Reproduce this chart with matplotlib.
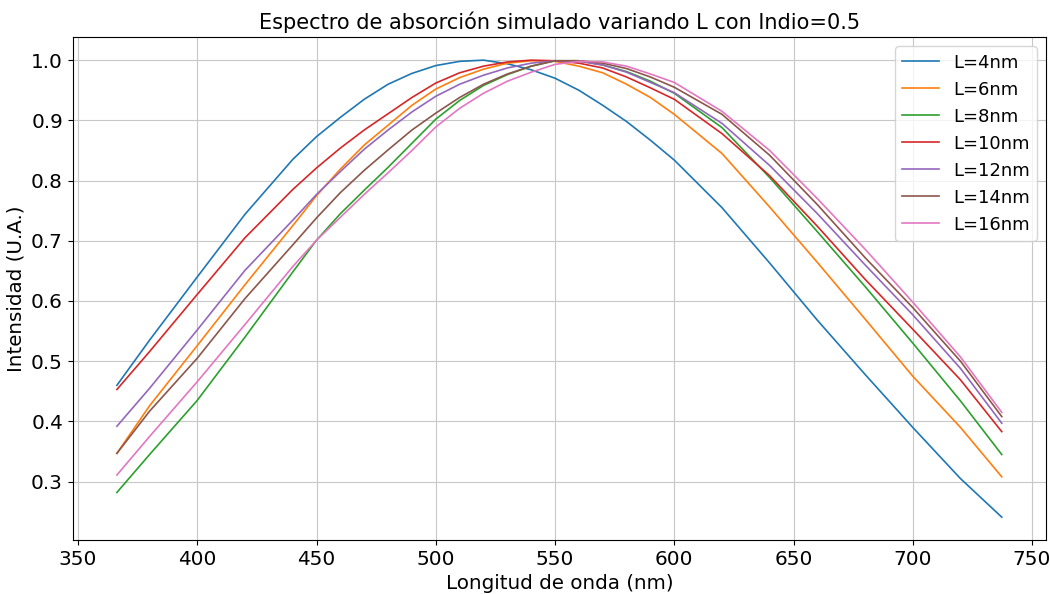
import matplotlib
matplotlib.use("Agg")
import matplotlib.pyplot as plt

# longitudes de onda leidas (nm)
wl = [366.3, 380, 400, 420, 440, 450, 460, 470, 480, 490, 500, 510, 520, 530,
      540, 550, 560, 570, 580, 590, 600, 620, 640, 660, 680, 700, 720, 737.3]

I_L4 = [0.460, 0.535, 0.640, 0.744, 0.835, 0.873, 0.905, 0.935, 0.960, 0.978,
        0.991, 0.998, 1.000, 0.994, 0.984, 0.970, 0.950, 0.925, 0.898, 0.867,
        0.834, 0.755, 0.663, 0.568, 0.478, 0.390, 0.305, 0.241]
I_L6 = [0.347, 0.426, 0.526, 0.627, 0.725, 0.775, 0.819, 0.859, 0.892, 0.925,
        0.952, 0.971, 0.985, 0.995, 0.999, 0.998, 0.990, 0.979, 0.960, 0.938,
        0.910, 0.845, 0.756, 0.664, 0.570, 0.475, 0.390, 0.308]
I_L8 = [0.282, 0.345, 0.435, 0.540, 0.648, 0.701, 0.745, 0.784, 0.822, 0.862,
        0.902, 0.933, 0.958, 0.976, 0.990, 0.999, 0.999, 0.992, 0.981, 0.965,
        0.945, 0.888, 0.805, 0.715, 0.624, 0.530, 0.434, 0.345]
I_L10 = [0.453, 0.516, 0.611, 0.705, 0.785, 0.821, 0.854, 0.884, 0.911, 0.938,
         0.962, 0.979, 0.990, 0.997, 1.000, 0.999, 0.995, 0.987, 0.972, 0.954,
         0.935, 0.878, 0.808, 0.724, 0.636, 0.553, 0.469, 0.383]
I_L12 = [0.392, 0.455, 0.552, 0.651, 0.734, 0.777, 0.815, 0.852, 0.884, 0.914,
         0.940, 0.960, 0.975, 0.987, 0.995, 0.999, 0.998, 0.992, 0.980, 0.963,
         0.946, 0.895, 0.825, 0.745, 0.660, 0.577, 0.488, 0.397]
I_L14 = [0.347, 0.417, 0.505, 0.604, 0.693, 0.738, 0.780, 0.817, 0.851, 0.884,
         0.912, 0.938, 0.960, 0.977, 0.990, 0.999, 0.999, 0.995, 0.986, 0.972,
         0.955, 0.910, 0.842, 0.760, 0.672, 0.589, 0.500, 0.408]
I_L16 = [0.311, 0.375, 0.466, 0.561, 0.657, 0.701, 0.739, 0.777, 0.813, 0.850,
         0.889, 0.920, 0.945, 0.965, 0.980, 0.993, 0.998, 0.997, 0.990, 0.977,
         0.963, 0.915, 0.850, 0.770, 0.686, 0.598, 0.507, 0.415]

series = [I_L4, I_L6, I_L8, I_L10, I_L12, I_L14, I_L16]
labels = ["L=4nm", "L=6nm", "L=8nm", "L=10nm", "L=12nm", "L=14nm", "L=16nm"]

fig = plt.figure(figsize=(10.5, 5.94), dpi=100)
ax = fig.add_axes([0.0692, 0.0909, 0.927, 0.8463])

for y, lab in zip(series, labels):
    ax.plot(wl, y, linewidth=1.2, label=lab)

ax.set_title("Espectro de absorción simulado variando L con Indio=0.5", fontsize=15)
ax.set_xlabel("Longitud de onda (nm)", fontsize=14.3)
ax.set_ylabel("Intensidad (U.A.)", fontsize=14.3)
ax.tick_params(labelsize=14.4)
ax.grid(True, color="#c8c8c8", linewidth=0.8)
ax.legend(loc="upper right", fontsize=13)

fig.savefig("out.png", dpi=100)
